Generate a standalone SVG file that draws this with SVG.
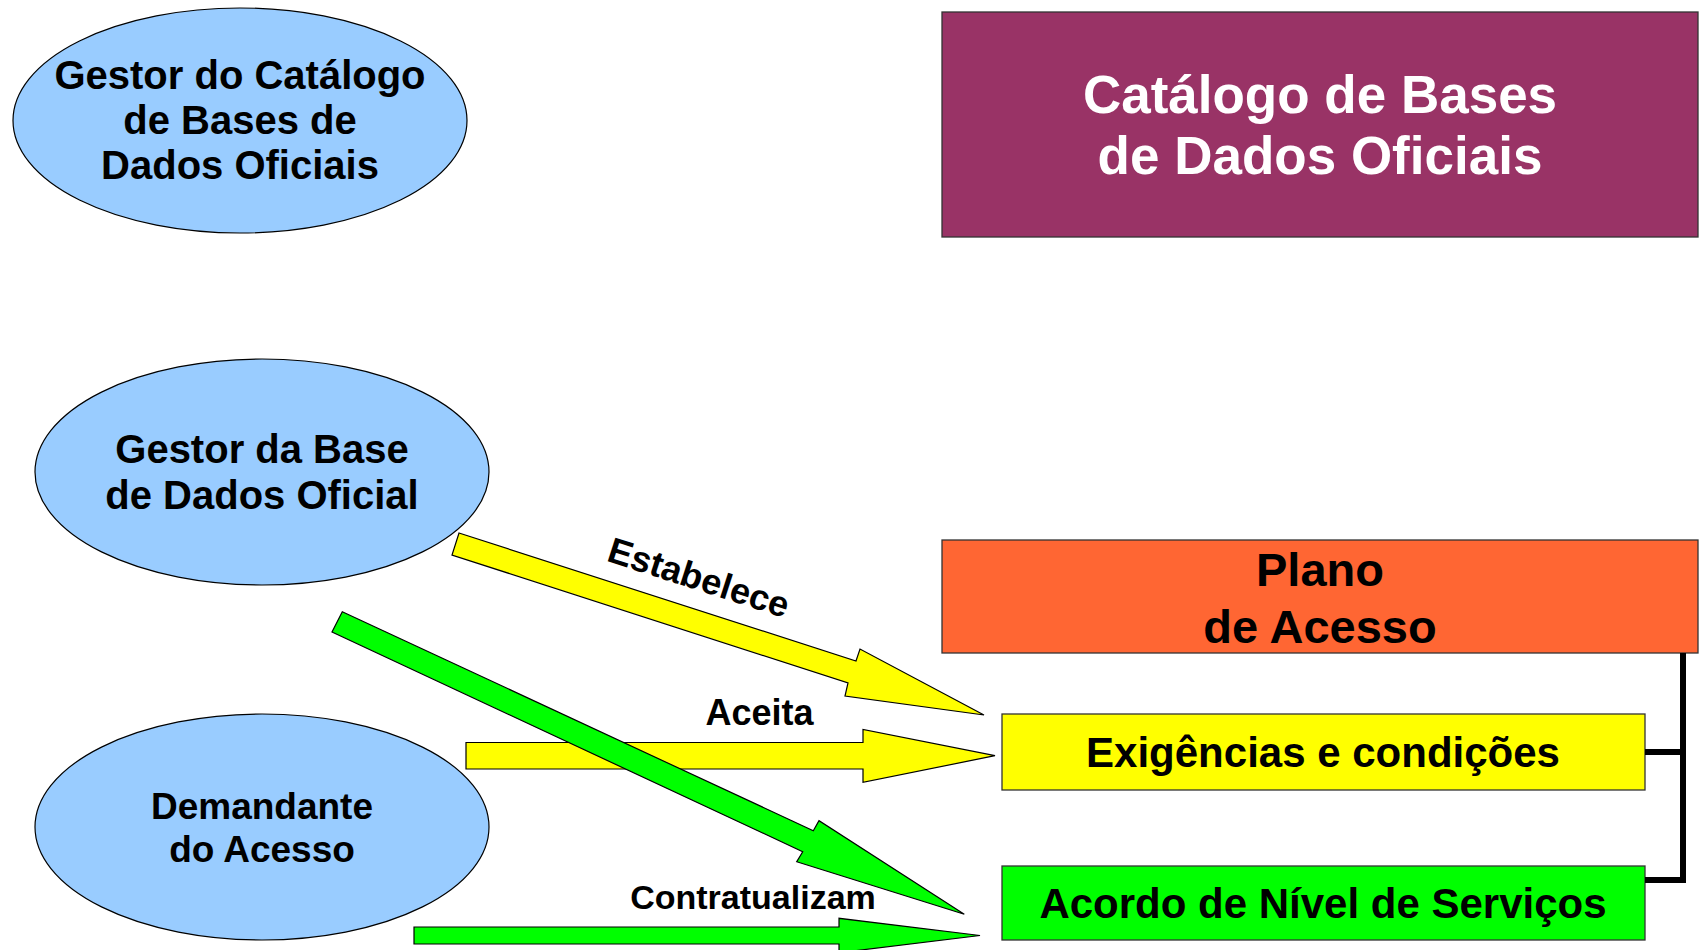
<svg xmlns="http://www.w3.org/2000/svg" width="1700" height="950" viewBox="0 0 1700 950">
<style>
  text { font-family: "Liberation Sans", Arial, sans-serif; font-weight: bold; text-anchor: middle; fill: #000; }
  .actor { fill: #99CCFF; stroke: #000; stroke-width: 1.2; }
  .box { stroke: #333; stroke-width: 1.3; }
  .arrow { stroke: #000; stroke-width: 1.2; stroke-linejoin: miter; }
  .yellow { fill: #FFFF00; }
  .green { fill: #00FF00; }
</style>
<rect x="0" y="0" width="1700" height="950" fill="#fff"/>

<g id="gestor-catalogo">
  <ellipse class="actor" cx="240" cy="120.5" rx="227" ry="112.5"/>
  <text font-size="40" x="240" y="89">Gestor do Catálogo</text>
  <text font-size="40" x="240" y="134">de Bases de</text>
  <text font-size="40" x="240" y="179">Dados Oficiais</text>
</g>

<g id="catalogo">
  <rect class="box" x="942" y="12" width="756" height="225" fill="#993366"/>
  <text font-size="53" x="1320" y="113" style="fill:#fff">Catálogo de Bases</text>
  <text font-size="53" x="1320" y="174" style="fill:#fff">de Dados Oficiais</text>
</g>

<g id="gestor-base">
  <ellipse class="actor" cx="262" cy="472" rx="227" ry="113"/>
  <text font-size="40" x="262" y="463">Gestor da Base</text>
  <text font-size="40" x="262" y="509">de Dados Oficial</text>
</g>

<g id="demandante">
  <ellipse class="actor" cx="262" cy="827" rx="227" ry="113"/>
  <text font-size="37" x="262" y="819">Demandante</text>
  <text font-size="37" x="262" y="862">do Acesso</text>
</g>

<g id="plano">
  <rect class="box" x="942" y="540" width="756" height="113" fill="#FF6633"/>
  <text font-size="47" x="1320" y="586">Plano</text>
  <text font-size="47" x="1320" y="643">de Acesso</text>
</g>

<g id="exigencias">
  <rect class="box" x="1002" y="714" width="643" height="76" fill="#FFFF00"/>
  <text font-size="42" x="1323" y="767">Exigências e condições</text>
</g>

<g id="acordo">
  <rect class="box" x="1002" y="866" width="643" height="74" fill="#00FF00"/>
  <text font-size="42" x="1323" y="918">Acordo de Nível de Serviços</text>
</g>

<g id="connectors">
  <path d="M1683,653 V880 H1645 M1645,752 H1683" fill="none" stroke="#000" stroke-width="6"/>
  <polygon class="arrow yellow" points="459,533 856,661 860,649 984,715 845,696 848,683 452,555"/>
  <polygon class="arrow yellow" points="466,742.5 863,742.5 863,729.5 995,755.7 863,782.3 863,769 466,769"/>
  <polygon class="arrow green" points="342.3,611.7 813.3,830.7 819,820.7 964.3,914.3 796.7,861.7 802.7,851.7 332,632"/>
  <polygon class="arrow green" points="414,927 839,927 839,918.3 980,935.5 839,952.7 839,944 414,944"/>
  <text font-size="36" transform="translate(699,577) rotate(17.8)" x="0" y="13">Estabelece</text>
  <text font-size="36" x="759.5" y="725">Aceita</text>
  <text font-size="34" x="753" y="909">Contratualizam</text>
</g>
</svg>
